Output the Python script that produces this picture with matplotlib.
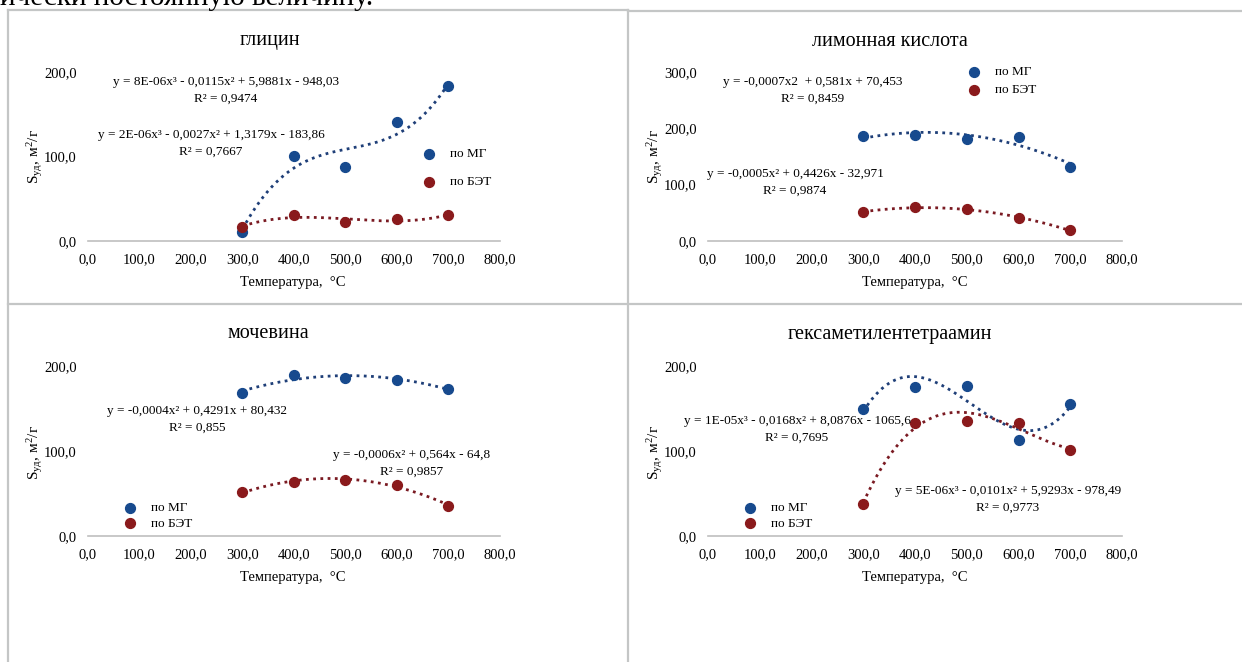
import matplotlib
matplotlib.use("Agg")
import matplotlib.pyplot as plt
from matplotlib.lines import Line2D
import numpy as np

plt.rcParams['font.family'] = ['Liberation Serif', 'DejaVu Serif']
plt.rcParams['mathtext.fontset'] = 'custom'
plt.rcParams['mathtext.rm'] = 'Liberation Serif'
plt.rcParams['mathtext.it'] = 'Liberation Serif:italic'

W, H = 1242, 662

# данные (читаются с графиков)
temp = [300, 400, 500, 600, 700]

glycine_mg = [10.5, 100.5, 87.5, 140.5, 183.0]
glycine_bet = [17.0, 30.5, 22.0, 26.5, 30.5]

citric_mg = [186.0, 188.0, 180.5, 185.0, 131.0]
citric_bet = [51.0, 61.0, 56.0, 40.0, 19.5]

urea_mg = [168.5, 189.5, 185.5, 183.5, 173.5]
urea_bet = [51.5, 64.0, 66.0, 60.0, 35.5]

hmta_mg = [149.5, 175.5, 177.0, 113.5, 155.0]
hmta_bet = [37.5, 133.5, 135.5, 132.5, 101.0]

x_ticks = [0, 100, 200, 300, 400, 500, 600, 700, 800]

BLUE = '#174a8e'
RED = '#8a1a1c'
BLUE_LINE = '#1f3f78'
RED_LINE = '#7a1a22'


def fx(x):
    return x / W


def fy(y):
    return 1 - y / H


def fmt(v):
    return f"{v:.1f}".replace('.', ',')


fig = plt.figure(figsize=(W / 100, H / 100), dpi=100)
fig.patch.set_facecolor('white')

# текст документа над графиками (обрезан)
fig.text(fx(0), fy(5), "ически постоянную величину.", fontsize=21,
         ha='left', va='baseline')

# рамки диаграмм
border = '#c4c6c6'
for seg in [((7.5, 9.5), (628, 9.5)), ((628, 10.5), (1242, 10.5)),
            ((7.5, 9.5), (7.5, 662)), ((628, 9.5), (628, 662)),
            ((7.5, 304), (1242, 304))]:
    (x0, y0), (x1, y1) = seg
    fig.add_artist(Line2D([fx(x0), fx(x1)], [fy(y0), fy(y1)],
                          color=border, lw=1.6, transform=fig.transFigure))

panels = [
    dict(title="глицин", box=(88, 500, 241, 72), ymax=200, ystep=100,
         mg=glycine_mg, bet=glycine_bet, deg=3, tpos=(270, 41),
         eqs=[("y = 8E-06x³ - 0,0115x² + 5,9881x - 948,03", "R² = 0,9474", 226, 82),
              ("y = 2E-06x³ - 0,0027x² + 1,3179x - 183,86", "R² = 0,7667", 211, 135)],
         leg=(421, 148), lsp=1.2, xl=(293, 283), yl=(35, 157)),
    dict(title="лимонная кислота", box=(708, 1122, 241, 72), ymax=300, ystep=100,
         mg=citric_mg, bet=citric_bet, deg=2, tpos=(890, 41),
         eqs=[("y = -0,0007x2  + 0,581x + 70,453", "R² = 0,8459", 813, 82),
              ("y = -0,0005x² + 0,4426x - 32,971", "R² = 0,9874", 795, 174)],
         leg=(966, 66), lsp=0.45, xl=(915, 283), yl=(655, 157)),
    dict(title="мочевина", box=(88, 500, 536, 366), ymax=200, ystep=100,
         mg=urea_mg, bet=urea_bet, deg=2, tpos=(268, 334),
         eqs=[("y = -0,0004x² + 0,4291x + 80,432", "R² = 0,855", 197, 411),
              ("y = -0,0006x² + 0,564x - 64,8", "R² = 0,9857", 412, 455)],
         leg=(122, 502), lsp=0.25, xl=(293, 577), yl=(35, 453)),
    dict(title="гексаметилентетраамин", box=(708, 1122, 536, 366), ymax=200, ystep=100,
         mg=hmta_mg, bet=hmta_bet, deg=3, tpos=(890, 334),
         eqs=[("y = 1E-05x³ - 0,0168x² + 8,0876x - 1065,6", "R² = 0,7695", 797, 421),
              ("y = 5E-06x³ - 0,0101x² + 5,9293x - 978,49", "R² = 0,9773", 1008, 491)],
         leg=(742, 502), lsp=0.25, xl=(915, 577), yl=(655, 453)),
]

for p in panels:
    x0, x1, yb, yt = p['box']
    ax = fig.add_axes([fx(x0), fy(yb), (x1 - x0) / W, (yb - yt) / H])
    ax.set_facecolor('none')
    ax.set_xlim(0, 800)
    ax.set_ylim(0, p['ymax'])
    ax.set_xticks(x_ticks)
    ax.set_xticklabels([fmt(v) for v in x_ticks])
    yt_vals = list(range(0, p['ymax'] + 1, p['ystep']))
    ax.set_yticks(yt_vals)
    ax.set_yticklabels([fmt(v) for v in yt_vals])
    ax.tick_params(length=0, labelsize=10.5)
    ax.tick_params(axis='y', pad=8)
    ax.tick_params(axis='x', pad=9)
    for s in ['top', 'right', 'left']:
        ax.spines[s].set_visible(False)
    ax.spines['bottom'].set_color('#bfbfbf')
    ax.spines['bottom'].set_linewidth(1.2)

    xs = np.linspace(300, 700, 200)
    for vals, lc in [(p['mg'], BLUE_LINE), (p['bet'], RED_LINE)]:
        coef = np.polyfit(temp, vals, p['deg'])
        line = ax.plot(xs, np.polyval(coef, xs), linestyle=(0, (1, 1.6)), lw=2.0,
                       color=lc, zorder=2)
        line[0].set_clip_on(False)
    h1 = ax.scatter(temp, p['mg'], s=50, color=BLUE, zorder=3, label='по МГ')
    h2 = ax.scatter(temp, p['bet'], s=50, color=RED, zorder=3, label='по БЭТ')

    fig.text(fx(p['tpos'][0]), fy(p['tpos'][1]), p['title'], fontsize=14.5,
             ha='center', va='center')
    for eq, r2, cx, cy in p['eqs']:
        fig.text(fx(cx), fy(cy), eq, fontsize=9.5, ha='center', va='center')
        fig.text(fx(cx), fy(cy + 17), r2, fontsize=9.5, ha='center', va='center')

    fig.text(fx(p['xl'][0]), fy(p['xl'][1]), "Температура,  °С", fontsize=10.5,
             ha='center', va='center')
    fig.text(fx(p['yl'][0]), fy(p['yl'][1]), r"S$_{\mathrm{уд}}$, м$^{2}$/г",
             fontsize=11, ha='center', va='center', rotation=90)

    ax.legend(handles=[h1, h2], loc='upper left',
              bbox_to_anchor=(fx(p['leg'][0]), fy(p['leg'][1])),
              bbox_transform=fig.transFigure, frameon=False, fontsize=9.5,
              handletextpad=1.0, labelspacing=p['lsp'],
              borderpad=0, borderaxespad=0, handlelength=1.2)

fig.savefig('out.png', dpi=100, facecolor='white')
